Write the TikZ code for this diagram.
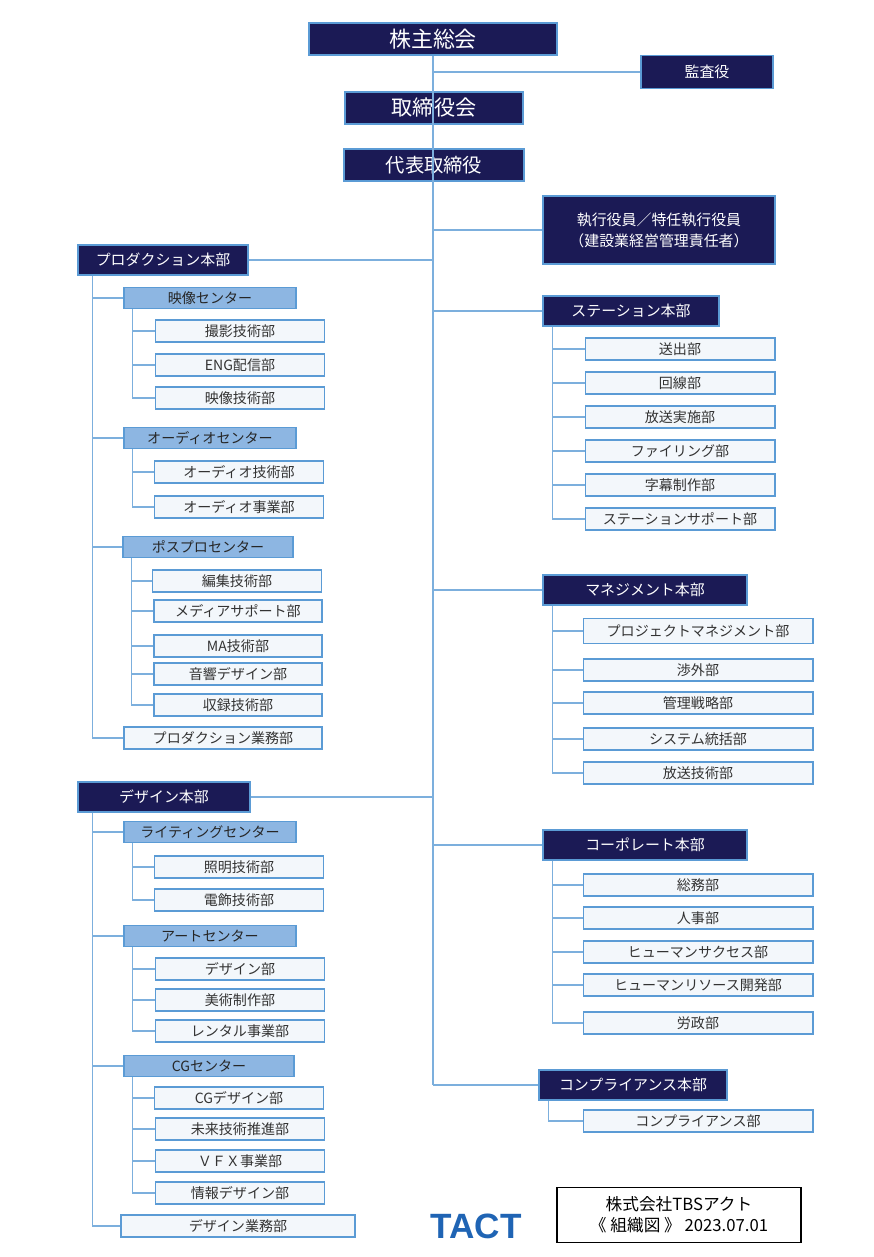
\documentclass[tikz,border=0pt]{standalone}
\usepackage{fontspec}
\setmainfont{Noto Sans CJK JP}
\newfontfamily\logofont{Liberation Sans}
\definecolor{navy}{HTML}{1B1A55}
\definecolor{edge}{HTML}{5B9BD5}
\definecolor{centerfill}{HTML}{8DB6E2}
\definecolor{deptfill}{HTML}{F3F7FB}
\definecolor{logoblue}{HTML}{1F64B4}

\tikzset{
	top/.style={draw=edge,fill=navy,text=white,line width=0.8pt,inner sep=0pt,minimum height=0.64cm},
	head/.style={draw=edge,fill=navy,text=white,line width=0.8pt,inner sep=0pt,minimum height=0.6cm,font=\fontsize{8.5}{10}\selectfont},
	center/.style={draw=edge,fill=centerfill,text=black!85,line width=0.6pt,inner sep=0pt,minimum width=3.44cm,minimum height=0.42cm,font=\fontsize{8}{9}\selectfont},
	dept/.style={draw=edge,fill=deptfill,text=black!80,line width=0.6pt,inner sep=0pt,minimum width=3.38cm,minimum height=0.44cm,font=\fontsize{8}{9}\selectfont},
	rdept/.style={dept,minimum width=3.8cm},
	link/.style={draw=edge!80,line width=0.6pt}
}

\begin{document}
\begin{tikzpicture}[x=0.02cm,y=-0.02cm]
	\useasboundingbox (0,0) rectangle (874,1257);

	% top of the company
	\node[top,minimum width=4.96cm,font=\fontsize{12.5}{14}\selectfont] (kabu) at (433,39) {株主総会};
	\node[head,minimum width=2.64cm,minimum height=0.66cm] (kansa) at (707,72) {監査役};
	\node[top,minimum width=3.56cm,font=\fontsize{12}{14}\selectfont] (torishimari) at (434,108) {取締役会};
	\node[top,minimum width=3.6cm,font=\fontsize{11}{13}\selectfont] (daihyo) at (434,165) {代表取締役};
	\node[head,minimum width=4.64cm,minimum height=1.36cm,align=center,font=\fontsize{8.5}{12}\selectfont] (shikko) at (659,230) {執行役員／特任執行役員\\（建設業経営管理責任者）};

	% left: production
	\node[head,minimum width=3.4cm] (prod) at (163,260) {プロダクション本部};
	\node[center] (eizo) at (210,298) {映像センター};
	\node[dept] (satsuei) at (240,331) {撮影技術部};
	\node[dept] (eng) at (240,365) {ENG配信部};
	\node[dept] (eizogi) at (240,398) {映像技術部};
	\node[center] (audio) at (210,438) {オーディオセンター};
	\node[dept] (audiogi) at (239,472) {オーディオ技術部};
	\node[dept] (audioji) at (239,507) {オーディオ事業部};
	\node[center,minimum width=3.4cm] (pospro) at (208,547) {ポスプロセンター};
	\node[dept] (henshu) at (237,581) {編集技術部};
	\node[dept,minimum width=3.36cm] (media) at (238,611) {メディアサポート部};
	\node[dept,minimum width=3.36cm] (ma) at (238,646) {MA技術部};
	\node[dept,minimum width=3.36cm] (onkyo) at (238,674) {音響デザイン部};
	\node[dept,minimum width=3.36cm] (shuroku) at (238,705) {収録技術部};
	\node[dept,minimum width=3.96cm] (prodgyo) at (223,738) {プロダクション業務部};

	% left: design
	\node[head,minimum width=3.44cm] (design) at (164,797) {デザイン本部};
	\node[center] (light) at (210,832) {ライティングセンター};
	\node[dept] (shomei) at (239,867) {照明技術部};
	\node[dept] (denshoku) at (239,900) {電飾技術部};
	\node[center] (art) at (210,936) {アートセンター};
	\node[dept] (designbu) at (240,969) {デザイン部};
	\node[dept] (bijutsu) at (240,1000) {美術制作部};
	\node[dept] (rental) at (240,1031) {レンタル事業部};
	\node[center,minimum width=3.4cm] (cg) at (209,1066) {CGセンター};
	\node[dept] (cgdesign) at (239,1098) {CGデザイン部};
	\node[dept] (mirai) at (240,1129) {未来技術推進部};
	\node[dept] (vfx) at (240,1161) {ＶＦＸ事業部};
	\node[dept] (joho) at (240,1193) {情報デザイン部};
	\node[dept,minimum width=4.68cm] (designgyo) at (238,1226) {デザイン業務部};

	% right: station
	\node[head,minimum width=3.52cm] (station) at (631,311) {ステーション本部};
	\node[rdept] (soshutsu) at (680,349) {送出部};
	\node[rdept] (kaisen) at (680,383) {回線部};
	\node[rdept] (hoso) at (680,417) {放送実施部};
	\node[rdept] (filing) at (680,451) {ファイリング部};
	\node[rdept] (jimaku) at (680,485) {字幕制作部};
	\node[rdept] (stsupport) at (680,519) {ステーションサポート部};

	% right: management
	\node[head,minimum width=4.08cm] (manage) at (645,590) {マネジメント本部};
	\node[rdept,minimum width=4.6cm,minimum height=0.5cm] (pm) at (698,631) {プロジェクトマネジメント部};
	\node[rdept,minimum width=4.6cm] (shogai) at (698,670) {渉外部};
	\node[rdept,minimum width=4.6cm] (kanri) at (698,703) {管理戦略部};
	\node[rdept,minimum width=4.6cm] (system) at (698,739) {システム統括部};
	\node[rdept,minimum width=4.6cm] (hosogi) at (698,773) {放送技術部};

	% right: corporate
	\node[head,minimum width=4.08cm] (corp) at (645,845) {コーポレート本部};
	\node[rdept,minimum width=4.6cm] (somu) at (698,885) {総務部};
	\node[rdept,minimum width=4.6cm] (jinji) at (698,918) {人事部};
	\node[rdept,minimum width=4.6cm] (success) at (698,952) {ヒューマンサクセス部};
	\node[rdept,minimum width=4.6cm] (resource) at (698,985) {ヒューマンリソース開発部};
	\node[rdept,minimum width=4.6cm] (rosei) at (698,1023) {労政部};

	% right: compliance
	\node[head,minimum width=3.76cm] (comp) at (633,1085) {コンプライアンス本部};
	\node[rdept,minimum width=4.6cm] (compbu) at (698,1121) {コンプライアンス部};

	% main trunk
	\draw[link] (kabu.south) -- (comp.west -| kabu.south);
	\foreach \n in {kansa,shikko,station,manage,corp,comp}
		\draw[link] (\n.west) -- (\n.west -| kabu.south);
	\foreach \n in {prod,design}
		\draw[link] (\n.east) -- (\n.east -| kabu.south);

	% left sub trunks
	\draw[link] ([xshift=0.3cm]prod.south west) |- (prodgyo.west);
	\foreach \n in {eizo,audio,pospro}
		\draw[link] ([xshift=0.3cm]prod.south west) |- (\n.west);
	\draw[link] ([xshift=0.3cm]design.south west) |- (designgyo.west);
	\foreach \n in {light,art,cg}
		\draw[link] ([xshift=0.3cm]design.south west) |- (\n.west);
	\foreach \c/\l in {eizo/{satsuei,eng,eizogi},audio/{audiogi,audioji},pospro/{henshu,media,ma,onkyo,shuroku},light/{shomei,denshoku},art/{designbu,bijutsu,rental},cg/{cgdesign,mirai,vfx,joho}}
		\foreach \n in \l
			\draw[link] ([xshift=0.18cm]\c.south west) |- (\n.west);

	% right sub trunks
	\foreach \c/\l in {station/{soshutsu,kaisen,hoso,filing,jimaku,stsupport},manage/{pm,shogai,kanri,system,hosogi},corp/{somu,jinji,success,resource,rosei},comp/{compbu}}
		\foreach \n in \l
			\draw[link] ([xshift=0.2cm]\c.south west) |- (\n.west);

	% footer
	\node[font=\logofont\bfseries\fontsize{20}{20}\selectfont,text=logoblue] (logo) at (476,1226) {TACT};
	\node[draw=black,line width=1pt,minimum width=4.88cm,minimum height=1.1cm,align=center,font=\fontsize{9.5}{12}\selectfont] (title) at (679,1215) {株式会社TBSアクト\\《 組織図 》 2023.07.01};
\end{tikzpicture}
\end{document}
